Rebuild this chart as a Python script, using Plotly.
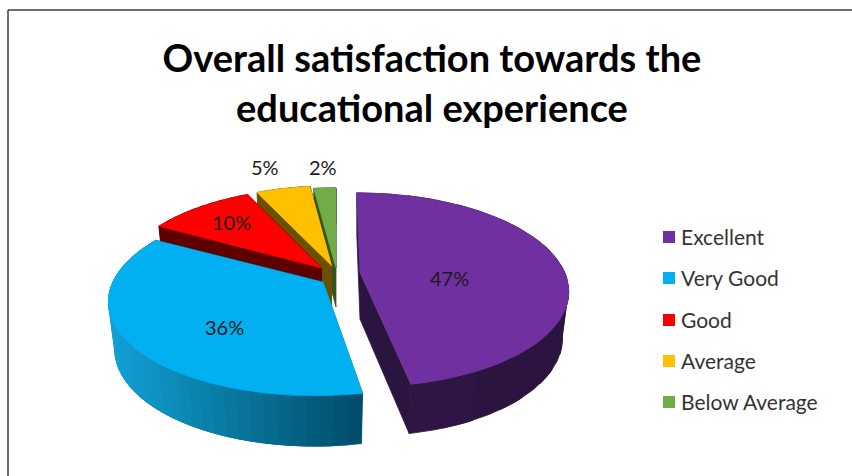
import numpy as np
import plotly.graph_objects as go

# ---- data ----
categories = ["Excellent", "Very Good", "Good", "Average", "Below Average"]
values = [47, 36, 10, 5, 2]
title_text = "Overall satisfaction towards the<br>educational experience"

# ---- style ----
top_colors = ["#7030A0", "#00B0F0", "#FF0000", "#FFC000", "#70AD47"]
side_colors = ["#2C1440", "#0A6F96", "#5E0000", "#6B5000", "#35531F"]
apex_x = [360, 323, 322, 332, 336]
apex_y = [273, 282, 268, 266, 268]
scale_x = [0.985, 1.01, 0.97, 0.98, 1.0]
shear = [0.04, -0.07, 0.0, 0.0, 0.0]
depth = [46, 47, 46, 41, 39]
label_x = [449, 224, 231, 265, 323]
label_y = [278, 327, 222, 167, 167]
legend_x = [669, 669, 669, 669, 669]
legend_y = [237, 278, 320, 361, 402]

RX, RY, PERSP = 208.0, 94.0, 0.173
FONT = "Lato, Carlito, Calibri, sans-serif"


def ring(t, i):
    u, v = np.sin(t), np.cos(t)
    w = 1 + PERSP * v
    y = -RY * v / w
    return RX * scale_x[i] * u / w + shear[i] * y, y


def mix(a, b, f):
    a, b = np.array(a), np.array(b)
    c = (a + (b - a) * f).round().astype(int)
    return f"rgb({c[0]},{c[1]},{c[2]})"


def poly(xs, ys, color):
    return go.Scatter(x=list(xs), y=list(ys), mode="lines", fill="toself",
                      fillcolor=color, line=dict(color=color, width=0.8),
                      hoverinfo="skip", showlegend=False)


fig = go.Figure()
shares = np.array(values) / sum(values) * 2 * np.pi
ends = np.cumsum(shares)
starts = ends - shares

# back-to-front drawing order
for i in reversed(range(len(values))):
    ax, ay = apex_x[i], apex_y[i]
    t = np.linspace(starts[i], ends[i], 121)
    x, y = ring(t, i)

    def lower(px, py):
        return px * 0.97, py * 1.03 + depth[i]

    # radial cut faces
    for k in (0, -1):
        bx0, by0 = lower(0, 0)
        bx1, by1 = lower(x[k], y[k])
        fig.add_trace(poly([ax, ax + x[k], ax + bx1, ax + bx0],
                           [ay, ay + y[k], ay + by1, ay + by0], side_colors[i]))

    # outer wall in overlapping strips for the shading
    strips = 40 if i == 1 else 10
    idx = np.linspace(0, len(t) - 1, strips + 1).astype(int)
    order = list(zip(idx[:-1], idx[1:]))
    for a, b in order:
        e = min(b + 6, len(t) - 1)
        sx, sy = x[a:e + 1], y[a:e + 1]
        lx, ly = lower(sx, sy)
        if i == 1:
            f = np.clip((ax + x[a:b + 1].mean() - 110) / 252, 0, 1)
            col = mix((18, 160, 212), (0, 76, 104), f)
        elif i == 0:
            f = np.clip((ax + x[a:b + 1].mean() - 410) / 40, 0, 1)
            col = mix((58, 28, 84), (44, 20, 64), f)
        else:
            col = side_colors[i]
        fig.add_trace(poly(np.r_[ax + sx, ax + lx[::-1]],
                           np.r_[ay + sy, ay + ly[::-1]], col))

    # top face
    fig.add_trace(poly(np.r_[ax, ax + x], np.r_[ay, ay + y], top_colors[i]))

# legend entries
for name, color, lx, ly in zip(categories, top_colors, legend_x, legend_y):
    fig.add_trace(go.Scatter(x=[lx], y=[ly], mode="markers", name=name,
                             marker=dict(symbol="square", size=12, color=color),
                             hoverinfo="name", showlegend=False))
    fig.add_annotation(x=lx + 10, y=ly - 1, text=name, showarrow=False, xanchor="left",
                       font=dict(family=FONT, size=21, color="#333333"))

# data labels
for v, lx, ly in zip(values, label_x, label_y):
    fig.add_annotation(x=lx, y=ly, text=f"{v}%", showarrow=False,
                       font=dict(family=FONT, size=20, color="#1a1a1a"))

fig.add_shape(type="line", x0=8, x1=852, y0=10, y1=10, line=dict(color="#3c3c3c", width=1.5))
fig.add_shape(type="line", x0=8, x1=8, y0=10, y1=476, line=dict(color="#3c3c3c", width=1.5))

fig.update_layout(
    width=852, height=476, margin=dict(l=0, r=0, t=0, b=0),
    paper_bgcolor="white", plot_bgcolor="white",
    showlegend=False,
    title=dict(text=title_text, x=432 / 852, xanchor="center", y=0.848, yanchor="middle",
               font=dict(family=FONT, size=38, color="black", weight="bold")),
    xaxis=dict(range=[0, 852], visible=False, fixedrange=True),
    yaxis=dict(range=[476, 0], visible=False, fixedrange=True),
)

fig.write_html("out.html", config=dict(displayModeBar=False),
               post_script="document.body.style.margin='0';")
